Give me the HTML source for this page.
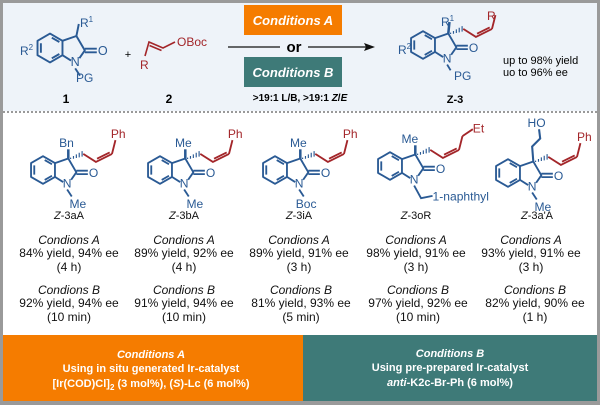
<!DOCTYPE html>
<html><head><meta charset="utf-8"><style>
html,body{margin:0;padding:0;background:#fff}
svg{display:block}
text{font-family:"Liberation Sans",sans-serif}
</style></head><body>
<svg width="600" height="405" viewBox="0 0 600 405" xmlns="http://www.w3.org/2000/svg">
<defs>
<g id="ox" fill="none" stroke="#2a5a94" stroke-width="1.6" stroke-linejoin="round">
<path d="M0,-12 L10.4,-6 L10.4,6 L0,12 L-10.4,6 L-10.4,-6 Z"/>
<path d="M-7.6,-4 L-7.6,4 M1.5,-8.6 L7.8,-5 M1.5,8.6 L7.8,5"/>
<path d="M10.4,-6 L22,-10 L29,2 L24.5,8.5 M17.5,10.5 L10.4,6"/>
<path d="M29,0.6 L39,0.6 M29,3.6 L39,3.6"/>
<text x="44" y="6" font-size="10.5" fill="#2a5a94" stroke="none" text-anchor="middle">O</text>
<text x="21" y="15" font-size="10.5" fill="#2a5a94" stroke="none" text-anchor="middle">N</text>
</g>
<g id="hw" stroke="#2a5a94" stroke-width="1">
<path d="M24,-10.8 L24,-9.6 M26.5,-12.2 L26.5,-9.8 M29,-13.6 L29,-10.4 M31.5,-15 L31.5,-11 M34,-16.4 L34,-11.6"/>
</g>
<g id="ch" fill="none" stroke="#a3262a" stroke-width="1.6">
<path d="M35,-14 L46,-7 L60,-14 M47,-9.8 L58,-15.3 M60,-14 L63,-26"/>
</g>
</defs>
<rect x="0" y="0" width="600" height="405" fill="#9a9a9a"/>
<rect x="3" y="3" width="594" height="398" fill="#fff"/>
<rect x="3" y="3" width="594" height="108" fill="#eef3f9"/>
<line x1="3" y1="112" x2="597" y2="112" stroke="#333" stroke-width="1" stroke-dasharray="2,2"/>

<!-- reactant 1 -->
<g transform="translate(50,48) scale(1.2)"><use href="#ox"/>
<path d="M22,-10 L24,-20" stroke="#2a5a94" stroke-width="1.6"/>
<path d="M21,17 L25,23" stroke="#2a5a94" stroke-width="1.6"/></g>
<text x="80" y="27" font-size="12" fill="#2a5a94">R<tspan font-size="8" dy="-5">1</tspan></text>
<text x="20" y="55" font-size="12" fill="#2a5a94">R<tspan font-size="8" dy="-5">2</tspan></text>
<text x="76" y="82" font-size="12" fill="#2a5a94">PG</text>
<text x="66" y="103" font-size="12" font-weight="bold" text-anchor="middle">1</text>
<text x="128" y="58" font-size="11" text-anchor="middle">+</text>
<!-- reactant 2 -->
<path d="M145,56 L149,42 L163,48 L175,42 M149.5,45.5 L161.5,50.5" fill="none" stroke="#a3262a" stroke-width="1.6"/>
<text x="140" y="69" font-size="12" fill="#a3262a">R</text>
<text x="177" y="46" font-size="12" fill="#a3262a">OBoc</text>
<text x="169" y="103" font-size="12" font-weight="bold" text-anchor="middle">2</text>

<!-- conditions -->
<rect x="244" y="5" width="98" height="30" fill="#f57c00"/>
<text x="293" y="25" font-size="13" font-weight="bold" font-style="italic" fill="#fff" text-anchor="middle">Conditions A</text>
<rect x="244" y="57" width="98" height="30" fill="#3e7a78"/>
<text x="293" y="77" font-size="13" font-weight="bold" font-style="italic" fill="#fff" text-anchor="middle">Conditions B</text>
<line x1="228" y1="47" x2="280" y2="47" stroke="#111" stroke-width="1.3"/>
<line x1="308" y1="47" x2="366" y2="47" stroke="#111" stroke-width="1.3"/>
<path d="M375,47 L364,43 L366,47 L364,51 Z" fill="#111"/>
<text x="294" y="52" font-size="15" font-weight="bold" text-anchor="middle">or</text>
<text x="300" y="101" font-size="10" font-weight="bold" text-anchor="middle">&gt;19:1 L/B, &gt;19:1 <tspan font-style="italic">Z</tspan>/<tspan font-style="italic">E</tspan></text>

<!-- product Z-3 -->
<g transform="translate(423,45) scale(1.15)"><use href="#ox"/><use href="#hw"/><use href="#ch"/>
<path d="M22,-10 L23,-20" stroke="#2a5a94" stroke-width="2.2"/>
<path d="M21,17 L24,22" stroke="#2a5a94" stroke-width="1.6"/></g>
<text x="441" y="26" font-size="12" fill="#2a5a94">R<tspan font-size="8" dy="-5">1</tspan></text>
<text x="398" y="54" font-size="12" fill="#2a5a94">R<tspan font-size="8" dy="-5">2</tspan></text>
<text x="454" y="80" font-size="12" fill="#2a5a94">PG</text>
<text x="487" y="20" font-size="12" fill="#a3262a">R</text>
<text x="455" y="103" font-size="11" font-weight="bold" text-anchor="middle">Z-3</text>
<text x="503" y="64" font-size="11">up to 98% yield</text>
<text x="503" y="76" font-size="11">uo to 96% ee</text>

<!-- bottom compounds -->
<g transform="translate(43,170) scale(1.15)"><use href="#ox"/><use href="#hw"/><use href="#ch"/>
<path d="M22,-10 L22,-18" stroke="#2a5a94" stroke-width="2.2"/><path d="M21,17 L25,23" stroke="#2a5a94" stroke-width="1.6"/>
<text x="14" y="-20" font-size="10.5" fill="#2a5a94">Bn</text><text x="23" y="33" font-size="10.5" fill="#2a5a94">Me</text>
<text x="59" y="-28" font-size="10.5" fill="#a3262a">Ph</text></g>

<g transform="translate(160,170) scale(1.15)"><use href="#ox"/><use href="#hw"/><use href="#ch"/>
<path d="M22,-10 L22,-18" stroke="#2a5a94" stroke-width="2.2"/><path d="M21,17 L25,23" stroke="#2a5a94" stroke-width="1.6"/>
<text x="13" y="-20" font-size="10.5" fill="#2a5a94">Me</text><text x="23" y="33" font-size="10.5" fill="#2a5a94">Me</text>
<text x="59" y="-28" font-size="10.5" fill="#a3262a">Ph</text></g>

<g transform="translate(275,170) scale(1.15)"><use href="#ox"/><use href="#hw"/><use href="#ch"/>
<path d="M22,-10 L22,-18" stroke="#2a5a94" stroke-width="2.2"/><path d="M21,17 L25,23" stroke="#2a5a94" stroke-width="1.6"/>
<text x="13" y="-20" font-size="10.5" fill="#2a5a94">Me</text><text x="18" y="33" font-size="10.5" fill="#2a5a94">Boc</text>
<text x="59" y="-28" font-size="10.5" fill="#a3262a">Ph</text></g>

<g transform="translate(390,166) scale(1.15)"><use href="#ox"/><use href="#hw"/><use href="#ch"/>
<path d="M22,-10 L22,-18" stroke="#2a5a94" stroke-width="2.2"/>
<path d="M21,17 L27,28 L37,26" stroke="#2a5a94" stroke-width="1.6" fill="none"/>
<path d="M63,-26 L72,-32" stroke="#a3262a" stroke-width="1.6"/>
<text x="10" y="-20" font-size="10.5" fill="#2a5a94">Me</text><text x="37" y="30" font-size="10.5" fill="#2a5a94">1-naphthyl</text>
<text x="72" y="-29" font-size="10.5" fill="#a3262a">Et</text></g>

<g transform="translate(508,173) scale(1.15)"><use href="#ox"/><use href="#hw"/><use href="#ch"/>
<path d="M22,-10 L21,-23 L28,-30 L27,-38" stroke="#2a5a94" stroke-width="1.8" fill="none"/>
<path d="M21,17 L25,23" stroke="#2a5a94" stroke-width="1.6"/>
<text x="17" y="-40" font-size="10.5" fill="#2a5a94">HO</text><text x="23" y="33" font-size="10.5" fill="#2a5a94">Me</text>
<text x="60" y="-28" font-size="10.5" fill="#a3262a">Ph</text></g>

<!-- labels & data -->
<g font-size="12" text-anchor="middle" fill="#111">
<text x="69" y="219" font-size="11"><tspan font-style="italic">Z</tspan>-3aA</text>
<text x="184" y="219" font-size="11"><tspan font-style="italic">Z</tspan>-3bA</text>
<text x="299" y="219" font-size="11"><tspan font-style="italic">Z</tspan>-3iA</text>
<text x="416" y="219" font-size="11"><tspan font-style="italic">Z</tspan>-3oR</text>
<text x="537" y="219" font-size="11"><tspan font-style="italic">Z</tspan>-3a'A</text>

<g font-style="italic">
<text x="69" y="244">Condions A</text><text x="184" y="244">Condions A</text><text x="299" y="244">Condions A</text><text x="416" y="244">Condions A</text><text x="531" y="244">Condions A</text>
<text x="69" y="294">Condions B</text><text x="184" y="294">Condions B</text><text x="301" y="294">Condions B</text><text x="418" y="294">Condions B</text><text x="535" y="294">Condions B</text>
</g>
<text x="69" y="257">84% yield, 94% ee</text><text x="184" y="257">89% yield, 92% ee</text><text x="299" y="257">89% yield, 91% ee</text><text x="416" y="257">98% yield, 91% ee</text><text x="531" y="257">93% yield, 91% ee</text>
<text x="69" y="271">(4 h)</text><text x="184" y="271">(4 h)</text><text x="299" y="271">(3 h)</text><text x="416" y="271">(3 h)</text><text x="531" y="271">(3 h)</text>
<text x="69" y="307">92% yield, 94% ee</text><text x="184" y="307">91% yield, 94% ee</text><text x="301" y="307">81% yield, 93% ee</text><text x="418" y="307">97% yield, 92% ee</text><text x="535" y="307">82% yield, 90% ee</text>
<text x="69" y="321">(10 min)</text><text x="184" y="321">(10 min)</text><text x="301" y="321">(5 min)</text><text x="418" y="321">(10 min)</text><text x="535" y="321">(1 h)</text>
</g>

<!-- bottom boxes -->
<rect x="3" y="335" width="300" height="66" fill="#f57c00"/>
<rect x="303" y="335" width="294" height="66" fill="#3e7a78"/>
<g font-size="11" font-weight="bold" fill="#fff" text-anchor="middle">
<text x="151" y="358" font-style="italic">Conditions A</text>
<text x="151" y="372">Using in situ generated Ir-catalyst</text>
<text x="151" y="387">[Ir(COD)Cl]<tspan font-size="8" dy="3">2</tspan><tspan dy="-3"> (3 mol%), (</tspan><tspan font-style="italic">S</tspan>)-Lc (6 mol%)</text>
<text x="450" y="357" font-style="italic">Conditions B</text>
<text x="450" y="371">Using pre-prepared Ir-catalyst</text>
<text x="450" y="386"><tspan font-style="italic">anti</tspan>-K2c-Br-Ph (6 mol%)</text>
</g>
</svg>
</body></html>
